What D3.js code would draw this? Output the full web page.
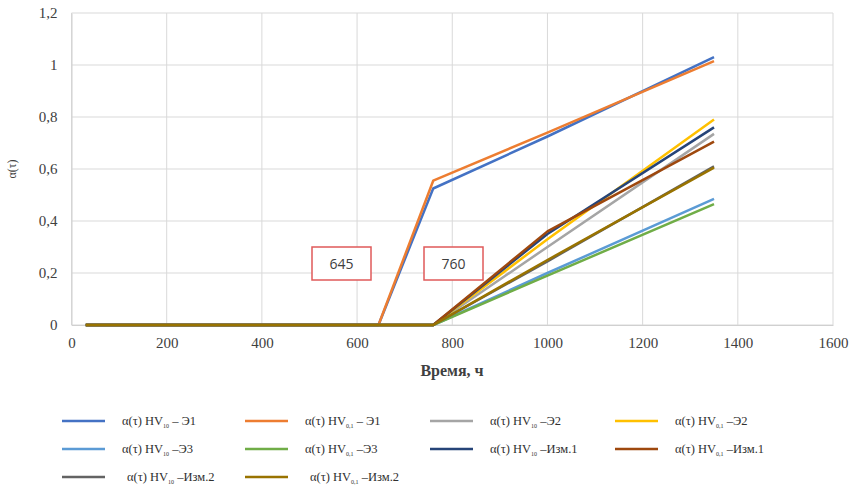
<!DOCTYPE html>
<html>
<head>
<meta charset="utf-8">
<script src="https://cdn.jsdelivr.net/npm/d3@7"></script>
<style>
  body { margin: 0; background: #fff; }
  text { font-family: "Liberation Serif", "DejaVu Serif", serif; }
</style>
</head>
<body>
<script>
// time points (hours)
var hours = [30, 645, 760, 1000, 1350];

// series names, subscripts and values at each time point
var names = ["Э1", "Э1", "Э2", "Э2", "Э3", "Э3", "Изм.1", "Изм.1", "Изм.2", "Изм.2"];
var subs = ["10", "0,1", "10", "0,1", "10", "0,1", "10", "0,1", "10", "0,1"];
var seriesValues = [
  [0, 0, 0.525, 0.725, 1.03],
  [0, 0, 0.555, 0.74, 1.015],
  [0, 0, 0, 0.30, 0.735],
  [0, 0, 0, 0.33, 0.79],
  [0, 0, 0, 0.20, 0.485],
  [0, 0, 0, 0.19, 0.465],
  [0, 0, 0, 0.35, 0.76],
  [0, 0, 0, 0.36, 0.705],
  [0, 0, 0, 0.245, 0.61],
  [0, 0, 0, 0.25, 0.605]
];
var colors = ["#4472C4", "#ED7D31", "#A5A5A5", "#FFC000", "#5B9BD5",
              "#70AD47", "#264478", "#9E480E", "#636363", "#997300"];

var xTicks = [0, 200, 400, 600, 800, 1000, 1200, 1400, 1600];
var yTicks = [0, 0.2, 0.4, 0.6, 0.8, 1, 1.2];
var marks = [645, 760];

var svg = d3.select("body").append("svg")
  .attr("width", 856)
  .attr("height", 490);

var x = d3.scaleLinear().domain([0, 1600]).range([71.5, 833]);
var y = d3.scaleLinear().domain([0, 1.2]).range([325, 13]);

// grid
svg.append("g").selectAll("line.v").data(xTicks).enter().append("line")
  .attr("x1", function(d){ return x(d); }).attr("x2", function(d){ return x(d); })
  .attr("y1", y(0)).attr("y2", y(1.2))
  .style("stroke", "#d9d9d9").style("stroke-width", 1);
svg.append("g").selectAll("line.h").data(yTicks).enter().append("line")
  .attr("x1", x(0)).attr("x2", x(1600))
  .attr("y1", function(d){ return y(d); }).attr("y2", function(d){ return y(d); })
  .style("stroke", "#d9d9d9").style("stroke-width", 1);

// axes
var fmt = function(d){ return String(d).replace(".", ","); };
var xAxis = svg.append("g").attr("transform", "translate(0," + y(0) + ")")
  .call(d3.axisBottom(x).tickValues(xTicks).tickSize(0).tickPadding(12).tickFormat(fmt));
var yAxis = svg.append("g").attr("transform", "translate(" + x(0) + ",0)")
  .call(d3.axisLeft(y).tickValues(yTicks).tickSize(0).tickPadding(14).tickFormat(fmt));
[xAxis, yAxis].forEach(function(a){
  a.attr("font-family", "'Liberation Serif', serif").attr("font-size", 15);
  a.select(".domain").style("stroke", "#d0d0d0");
  a.selectAll("text").attr("fill", "#404040");
});

svg.append("text")
  .attr("transform", "translate(16," + y(0.6) + ") rotate(-90)")
  .attr("text-anchor", "middle")
  .style("font-size", "12px").style("fill", "#404040")
  .text("α(τ)");

svg.append("text")
  .attr("x", 452).attr("y", 376)
  .attr("text-anchor", "middle")
  .style("font-size", "16px").style("font-weight", "bold").style("fill", "#404040")
  .text("Время, ч");

// annotation boxes
var boxes = svg.append("g").selectAll("g").data(marks).enter().append("g");
boxes.append("rect")
  .attr("x", function(d, i){ return i == 0 ? 312 : 424; })
  .attr("y", 247).attr("width", 59).attr("height", 33)
  .style("fill", "#fff").style("stroke", "#e05a5a").style("stroke-width", 1.5);
boxes.append("text")
  .attr("x", function(d, i){ return i == 0 ? 341.5 : 453.5; })
  .attr("y", 269)
  .attr("text-anchor", "middle")
  .style("font-family", "Open Sans, sans-serif").style("font-size", "14px").style("fill", "#404040")
  .text(function(d){ return d; });

// lines
var line = d3.line()
  .x(function(d, i){ return x(hours[i]); })
  .y(function(d){ return y(d); });

svg.append("g").selectAll("path").data(seriesValues).enter().append("path")
  .attr("d", line)
  .style("fill", "none")
  .style("stroke", function(d, i){ return colors[i]; })
  .style("stroke-width", 2.5)
  .style("stroke-linejoin", "round");

// legend
var colX = [62, 245, 430, 615];
var rowY = [421, 449, 477];
var leg = svg.append("g").selectAll("g").data(names).enter().append("g")
  .attr("transform", function(d, i){
    return "translate(" + colX[i % 4] + "," + rowY[Math.floor(i / 4)] + ")";
  });
leg.append("line")
  .attr("x1", 0).attr("x2", 43).attr("y1", 0).attr("y2", 0)
  .style("stroke", function(d, i){ return colors[i]; })
  .style("stroke-width", 2.5);
var lt = leg.append("text")
  .attr("x", function(d, i){ return i >= 8 ? 65 : 60; })
  .attr("y", 4)
  .style("font-size", "12.5px").style("fill", "#303030");
lt.append("tspan").text("α(τ) HV");
lt.append("tspan").attr("dy", 3).style("font-size", "6px")
  .text(function(d, i){ return subs[i]; });
lt.append("tspan").attr("dy", -3)
  .text(function(d, i){ return (i < 2 ? " – " : " –") + d; });
</script>
</body>
</html>
